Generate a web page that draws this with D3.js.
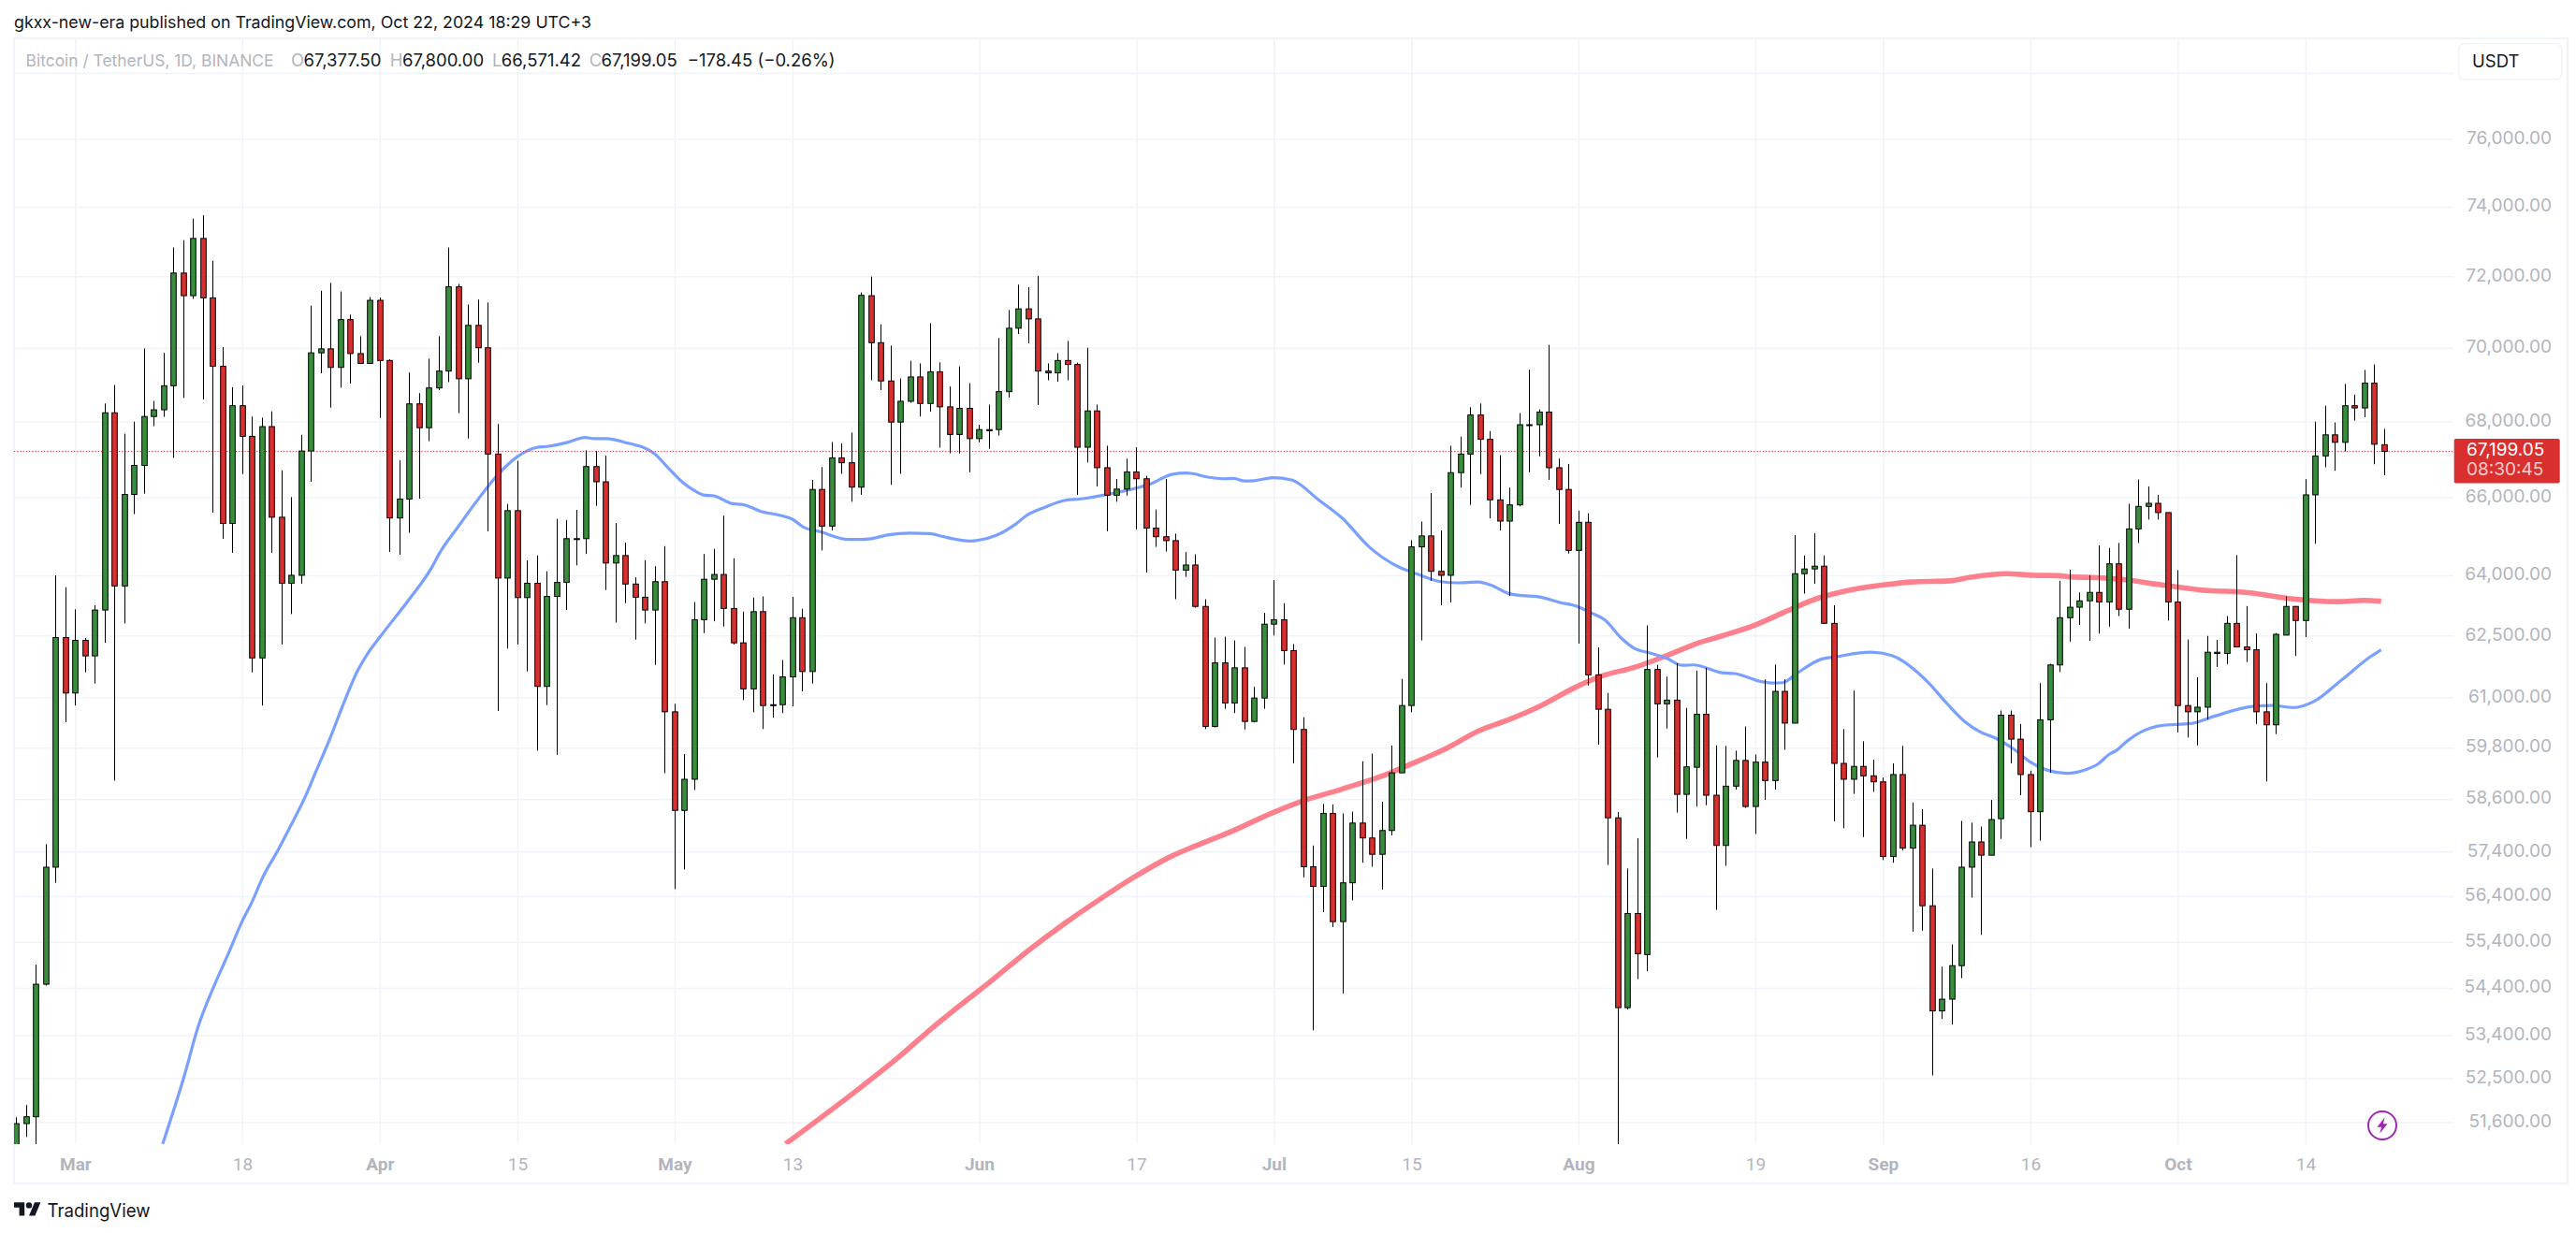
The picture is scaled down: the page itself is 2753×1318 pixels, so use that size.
<!DOCTYPE html>
<html>
<head>
<meta charset="utf-8">
<script src="https://cdn.jsdelivr.net/npm/d3@7/dist/d3.min.js"></script>
<style>
html,body{margin:0;padding:0;background:#fff;}
svg{display:block;font-family:Inter,"Noto Sans",sans-serif;}
</style>
</head>
<body>
<svg id="chart" width="2753" height="1318"></svg>
<script>
// Days are counted from 1 March 2024; the first candle is 24 Feb (day -6), the last 22 Oct (day 235).
const firstDay = -6;
const opens = [
50700,51570,51710,54480,57050,62450,61100,62380,62000,63130,
68230,63730,66070,66830,68130,68310,68960,72090,71450,73080,
71390,69490,65320,68420,67600,61950,67860,65480,63800,64000,
67210,69860,69970,69460,70780,69840,69570,71320,69650,65460,
65950,68470,67830,68900,69360,71700,69150,70620,70000,67130,
63930,65650,63440,63800,61260,63470,63820,64930,64930,66800,
66400,64310,64500,63780,63450,63130,63840,60650,58340,59060,
62890,63900,64020,63170,62320,61200,63090,60820,60820,61490,
62940,61620,66200,65250,67030,66900,66260,71450,70140,69090,
67980,68540,69200,68480,69340,68390,67650,68350,67540,67780,
67780,68800,70540,71080,70800,69360,69310,69650,69540,67310,
68280,66770,66050,66210,66660,66480,65200,64980,64880,64130,
64260,63220,60300,61830,60860,61710,60420,60980,62780,62890,
62130,60230,57060,56620,58270,55840,56700,58050,57710,57340,
57880,59210,60800,64720,65000,64100,64000,66640,67130,68170,
67520,65930,65380,65800,67910,67910,68250,66770,66200,64630,
65350,61540,60710,58170,53980,56020,55120,61670,60840,60930,
58710,59340,60590,58690,57540,58900,59500,58430,59460,59030,
61140,60380,64040,64160,64230,62800,59430,59060,59360,59140,
59000,57290,59170,57480,58000,56190,53910,54160,54880,57050,
57620,57320,58150,60570,60000,59170,58310,60460,61780,62940,
63200,63360,63570,63330,64290,63150,65180,65760,65840,65600,
63330,60800,60650,60760,62090,62060,62800,62220,62150,60650,
60340,62510,63220,62870,66060,67080,67640,67440,68420,68360,69030,67377.5];
const highs = [
51700,51950,54900,57570,64000,63700,63150,62440,63250,68480,
68980,67670,67990,69980,68550,69860,72820,73030,73650,73750,
72440,70020,68920,68970,68130,68100,68270,66700,66000,67640,
71170,71590,71810,71570,70920,70320,71410,71400,69680,66970,
69320,68760,69700,70320,72820,71780,71200,71340,71260,67930,
65820,66950,64380,64500,64100,65440,65410,65670,67230,67210,
67090,65330,64830,63950,64380,64230,64740,60840,59650,63330,
64540,64670,65520,64430,63090,63440,63470,61550,61900,63460,
63160,66450,66790,67450,67410,67700,71540,71990,70650,70060,
69160,69640,69570,70680,69600,68940,69490,69030,67910,68450,
70270,71050,71760,71690,72010,69570,69850,70190,69590,70000,
68450,67350,66470,67010,67310,66560,65680,66470,65060,64590,
64530,63400,62450,62470,62380,62220,61250,63060,63880,63300,
62290,60520,57540,58490,58480,58270,58310,59480,59660,58540,
59850,61440,64890,65370,66110,65140,67350,67590,68380,68480,
67740,67100,66250,68220,69400,68320,70080,67010,66870,65650,
65580,62210,61100,58300,57020,57700,62750,61780,61500,61820,
60740,61640,61710,59850,59840,59730,60300,59640,61430,61790,
61430,65020,64500,65070,64500,63250,60240,61160,59950,59520,
59100,59430,59840,58520,58370,57020,54860,55340,58100,58060,
57970,58580,60680,60680,60360,59260,61340,61810,63860,64140,
63570,64000,64760,64690,64820,65830,66460,66280,66060,65600,
64130,62400,61480,62490,62390,62980,64510,63230,62550,61340,
62560,63470,63230,66470,67990,68420,67970,69010,68720,69390,69540,67800];
const lows = [
50600,51300,51000,54450,56700,60400,60800,61600,61330,62320,
59030,62800,65560,66090,67870,68120,67030,68630,71360,68590,
65600,64930,64570,66600,61600,60800,64570,62280,63030,63790,
66400,69300,68370,68910,69020,69570,69570,68090,64590,64520,
65080,65960,67470,68840,69060,68220,67540,69590,65120,60670,
62180,62280,61620,59730,60810,59630,63130,64250,64540,65770,
63630,62820,63300,62400,62800,61780,59200,56560,57000,58810,
62560,62850,62720,62280,60930,60640,60240,60510,60620,60780,
61140,61330,64630,65140,66610,65880,66060,69110,68840,66320,
66610,68500,68130,68260,67300,67150,67150,66650,67440,67270,
67620,68640,70380,70120,68440,69110,69070,69110,66060,66910,
66280,65120,65880,66040,65170,64070,64720,64600,63400,63960,
63190,60240,60280,60720,60620,60230,60400,60720,62500,61790,
59430,56820,53500,56050,55720,54280,56310,57150,57060,56550,
57770,59210,60640,62380,63860,63250,63320,66250,65800,66600,
65450,65140,63480,65760,66650,67070,66450,65310,64550,62300,
61280,59870,57100,49000,53940,54590,54760,59570,60250,58290,
57690,58430,58460,56100,57080,58820,58400,57800,58580,58820,
59750,60380,63540,63790,62800,58090,57930,58720,57730,58770,
57210,57150,57430,55620,55640,52560,53740,53620,54610,56370,
55550,57320,57690,59430,58690,57500,57650,59210,61610,62350,
62760,62370,62550,62720,62980,62670,64820,65420,65420,62870,
60160,60040,59850,60470,61730,61800,62220,61850,60360,59010,
60120,62510,62000,62460,64800,66780,66690,67200,68020,68110,66860,66571.42];
const closes = [
51570,51710,54480,57050,62450,61100,62380,62000,63130,68230,
63730,66070,66830,68130,68310,68960,72090,71450,73080,71390,
69490,65320,68420,67600,61950,67860,65480,63800,64000,67210,
69860,69970,69460,70780,69840,69570,71320,69650,65460,65950,
68470,67830,68900,69360,71700,69150,70620,70000,67130,63930,
65650,63440,63800,61260,63470,63820,64930,64930,66800,66400,
64310,64500,63780,63450,63130,63840,60650,58340,59060,62890,
63900,64020,63170,62320,61200,63090,60800,60810,61490,62940,
61620,66200,65250,67030,66900,66260,71460,70140,69090,67980,
68540,69200,68480,69340,68390,67650,68350,67540,67780,67750,
68800,70540,71080,70800,69360,69310,69650,69540,67310,68280,
66770,66050,66210,66660,66480,65200,64980,64880,64130,64260,
63220,60300,61830,60860,61710,60420,60980,62780,62890,62130,
60230,57060,56620,58270,55840,56700,58050,57710,57340,57880,
59210,60800,64720,65000,64100,64000,66640,67130,68170,67520,
65930,65380,65800,67910,67900,68250,66770,66200,64630,65350,
61540,60710,58170,53980,56020,55140,61670,60840,60930,58710,
59350,60590,58690,57540,58900,59500,58430,59460,59030,61140,
60380,64040,64160,64230,62800,59430,59060,59360,59140,59000,
57290,59170,57480,58000,56190,53910,54160,54880,57050,57620,
57320,58130,60570,60000,59170,58310,60460,61780,62940,63200,
63360,63570,63330,64290,63150,65180,65760,65840,65600,63330,
60800,60650,60760,62090,62060,62800,62220,62150,60650,60340,
62530,63220,62870,66060,67080,67640,67440,68420,68360,69030,67390,67199.05];

// Blue moving average, read every few days
const blueDays = [8.9,11.1,12.5,14,15.5,17,18,19.1,20.6,22,23.4,24.5,25.9,27.3,28.7,29.8,31,34,36.2,37.1,38.9,40.9,43,45,46.9,48,50.1,51.9,52.8,54.1,55.8,58.9,60.3,61.9,63.1,64.1,64.9,66.9,67.9,69.8,71.9,73,74.1,75.8,78.7,80,81,82.8,84.9,87,88.2,91.1,91.9,93.8,95.7,96.8,98.7,100.8,102.2,105.4,107.9,109.3,111.7,113,113.9,114.9,116.8,117.9,119,120,121.9,123.8,126.6,128.9,131.7,134.7,136.5,139,140.6,142.8,144.1,145.8,147.3,148.9,151.1,153,154.2,155.7,157.3,158.8,160.3,161.9,163.6,164.7,167.6,168.9,171.7,172.8,173.8,175.2,177.7,179.2,182.8,184.9,187.6,188.7,190.5,192.3,193.9,195.5,197.4,199,200.6,202.7,204.7,205.9,207,207.8,208.8,212.5,215.3,217.8,221.6,223.6,225.8,227.8,230.8,233.6,234.7];
const blueValues = [51160,52550,53570,54380,55100,55850,56280,56830,57420,58020,58650,59240,60000,60840,61620,62070,62460,63400,64160,64570,65210,65910,66580,67060,67300,67330,67440,67570,67540,67540,67450,67150,66780,66370,66160,66050,66040,65830,65810,65630,65520,65430,65230,65110,64910,64910,64930,65030,65070,65060,64990,64870,64890,65020,65300,65520,65740,65920,65950,66090,66230,66330,66600,66630,66610,66540,66480,66490,66420,66430,66510,66450,65920,65470,64720,64210,64040,63840,63810,63830,63750,63550,63490,63460,63320,63210,63070,62880,62450,62170,62070,61950,61770,61780,61590,61570,61370,61340,61350,61570,61920,61980,62090,62010,61580,61330,60850,60420,60170,60020,59750,59460,59280,59200,59290,59420,59640,59740,59950,60330,60370,60550,60780,60800,60750,60890,61440,61980,62150];
// Red moving average, read every few days
const redDays = [72.3,80,83.7,87.5,91.9,93.1,96.9,100.7,104.4,107.8,111.6,113.9,117.6,121.9,124.8,128.9,133.3,135.9,139.7,142.8,146,149.2,152.7,155.5,158.7,161.9,165,167.6,170.8,173.9,177.1,180.3,183.8,186.9,190.8,192.9,196.6,199.3,201.9,203.1,205.8,208.9,211.4,216.4,221.4,225.3,230.3,233,234.7];
const redValues = [51160,52320,52920,53600,54330,54530,55190,55800,56350,56830,57300,57520,57850,58290,58550,58830,59160,59410,59800,60190,60470,60800,61240,61520,61720,62000,62300,62490,62740,63070,63400,63610,63750,63830,63860,63950,64040,64000,63990,63960,63940,63880,63790,63630,63560,63420,63340,63370,63350];

const gridPrices = [78000,76000,74000,72000,70000,68000,66000,64000,62500,61000,59800,58600,57400,56400,55400,54400,53400,52500,51600];
const priceTickValues = [76000,74000,72000,70000,68000,66000,64000,62500,61000,59800,58600,57400,56400,55400,54400,53400,52500,51600];
const timeTickDays = [0,17,31,45,61,73,92,108,122,136,153,171,184,199,214,227];
const timeTickLabels = ["Mar","18","Apr","15","May","13","Jun","17","Jul","15","Aug","19","Sep","16","Oct","14"];
const monthLabels = ["Mar","Apr","May","Jun","Jul","Aug","Sep","Oct"];
const lastPrice = 67199.05;
const headerText = "gkxx-new-era published on TradingView.com, Oct 22, 2024 18:29 UTC+3";
const legendName = "Bitcoin / TetherUS, 1D, BINANCE";

const pane = {left:15, right:2622, top:41, bottom:1223};
const svg = d3.select("#chart");
const x = d3.scaleLinear().domain([0,235]).range([80.4,2547.9]);
const y = d3.scaleLog().domain([51600,76000]).range([1199.5,148.5]);
const candles = opens.map((o,i)=>({day:firstDay+i,o,h:highs[i],l:lows[i],c:closes[i]}));
const gridColor = "#f0f3fa", labelColor = "#b2b5be", ink = "#131722";
const green = "#388e3c", red = "#d92f2f";

svg.append("defs").append("clipPath").attr("id","pane").append("rect")
  .attr("x",pane.left).attr("y",pane.top).attr("width",pane.right-pane.left).attr("height",pane.bottom-pane.top);

// frame
svg.append("rect").attr("x",15).attr("y",41).attr("width",2729).attr("height",1224)
  .attr("fill","none").attr("stroke",gridColor).attr("stroke-width",2.2);

// grid from axes
const hGrid = svg.append("g").attr("transform",`translate(${pane.right},0)`)
  .call(d3.axisLeft(y).tickValues(gridPrices).tickSize(pane.right-pane.left).tickFormat(""));
hGrid.select(".domain").remove();
hGrid.selectAll("line").attr("stroke",gridColor).attr("stroke-width",1.5);
const vGrid = svg.append("g").attr("transform",`translate(0,${pane.bottom})`)
  .call(d3.axisTop(x).tickValues(timeTickDays).tickSize(pane.bottom-pane.top).tickFormat(""));
vGrid.select(".domain").remove();
vGrid.selectAll("line").attr("stroke",gridColor).attr("stroke-width",1.5);

const plot = svg.append("g").attr("clip-path","url(#pane)");

// moving averages sit under the candles
const line = d3.line().x(d=>x(d[0])).y(d=>y(d[1])).curve(d3.curveMonotoneX);
plot.append("path").datum(redDays.map((d,i)=>[d,redValues[i]]))
  .attr("d",line).attr("fill","none").attr("stroke","#fd808c").attr("stroke-width",5.6);
plot.append("path").datum(blueDays.map((d,i)=>[d,blueValues[i]]))
  .attr("d",line).attr("fill","none").attr("stroke","#7aa0ff").attr("stroke-width",3.2);

// last price dotted line
plot.append("line").attr("x1",pane.left).attr("x2",pane.right).attr("y1",y(lastPrice)).attr("y2",y(lastPrice))
  .attr("stroke",red).attr("stroke-width",1).attr("stroke-dasharray","1.2 2");

// candles
const candle = plot.append("g").selectAll("g").data(candles).join("g");
candle.append("line")
  .attr("x1",d=>Math.round(x(d.day))+0.5).attr("x2",d=>Math.round(x(d.day))+0.5)
  .attr("y1",d=>y(d.h)).attr("y2",d=>y(d.l))
  .attr("stroke","#000").attr("stroke-width",1);
candle.append("rect")
  .attr("x",d=>Math.round(x(d.day))-2.3).attr("width",5.6)
  .attr("y",d=>y(Math.max(d.o,d.c)))
  .attr("height",d=>Math.max(1,Math.abs(y(d.o)-y(d.c))))
  .attr("fill",d=>d.c>=d.o?green:red)
  .attr("stroke","#000").attr("stroke-width",1);

// price axis
const yAxis = svg.append("g").attr("transform",`translate(${pane.right},0)`)
  .call(d3.axisRight(y).tickValues(priceTickValues).tickSize(0).tickFormat(d3.format(",.2f")));
yAxis.select(".domain").remove();
yAxis.selectAll("text").attr("x",105).attr("dy","0.25em")
  .attr("text-anchor","end").attr("fill",labelColor)
  .style("font-family","Inter").style("font-size","19px");

// time axis
const xAxis = svg.append("g").attr("transform",`translate(0,${pane.bottom})`)
  .call(d3.axisBottom(x).tickValues(timeTickDays).tickSize(0).tickFormat((d,i)=>timeTickLabels[i]));
xAxis.select(".domain").remove();
xAxis.selectAll("text").attr("y",15).attr("dy","0.71em")
  .attr("fill",labelColor).style("font-family","Roboto").style("font-size","19px")
  .style("font-weight",function(){return monthLabels.includes(this.textContent)?700:400;});

// header
svg.append("text").attr("x",15).attr("y",30).attr("fill",ink)
  .style("font-size","17.8px").text(headerText);

// legend
const lg = svg.append("text").attr("y",71).style("font-size","18.5px");
lg.append("tspan").attr("x",27.6).attr("fill",labelColor).style("font-size","17.4px").text(legendName);
[["O","67,377.50",311,324.5],["H","67,800.00",416.7,430],["L","66,571.42",526,535.8],["C","67,199.05",629.7,642.6]].forEach(r=>{
  lg.append("tspan").attr("x",r[2]).attr("fill",labelColor).text(r[0]);
  lg.append("tspan").attr("x",r[3]).attr("fill",ink).text(r[1]);
});
lg.append("tspan").attr("x",734.7).attr("fill",ink).text("\u2212178.45 (\u22120.26%)");

// USDT button
svg.append("rect").attr("x",2627.5).attr("y",46.5).attr("width",110.5).attr("height",38.5).attr("rx",7)
  .attr("fill","#fff").attr("stroke",gridColor).attr("stroke-width",1.5);
svg.append("text").attr("x",2642).attr("y",72).attr("fill",ink).style("font-size","18.5px").text("USDT");

// last price label
svg.append("rect").attr("x",2622.7).attr("y",469).attr("width",113).attr("height",47.5).attr("rx",2).attr("fill",red);
svg.append("text").attr("x",2636).attr("y",487).attr("fill","#fff").style("font-size","19px").text(d3.format(",.2f")(lastPrice));
svg.append("text").attr("x",2636).attr("y",508).attr("fill","#fff").attr("fill-opacity",0.75).style("font-size","19px").text("08:30:45");

// lightning badge
svg.append("circle").attr("cx",2546).attr("cy",1203).attr("r",15).attr("fill","#fff").attr("stroke","#9c27b0").attr("stroke-width",2);
svg.append("path").attr("transform","translate(2546,1203) scale(1.1)").attr("d","M2.5,-8 L-5,1.5 L-0.8,1.5 L-2.5,8 L5,-1.5 L0.8,-1.5 Z")
  .attr("fill","#9c27b0");

// TradingView logo
const logo = svg.append("g").attr("transform","translate(15,1282) scale(0.8)").attr("fill",ink);
logo.append("path").attr("d","M14 22H7V11H0V4h14v18zM28 22h-8l7.5-18h8L28 22z");
logo.append("circle").attr("cx",20).attr("cy",8).attr("r",4);
svg.append("text").attr("x",50.5).attr("y",1301).attr("fill",ink).style("font-size","20px")
  .attr("textLength",110).attr("lengthAdjust","spacingAndGlyphs").text("TradingView");
</script>
</body>
</html>
